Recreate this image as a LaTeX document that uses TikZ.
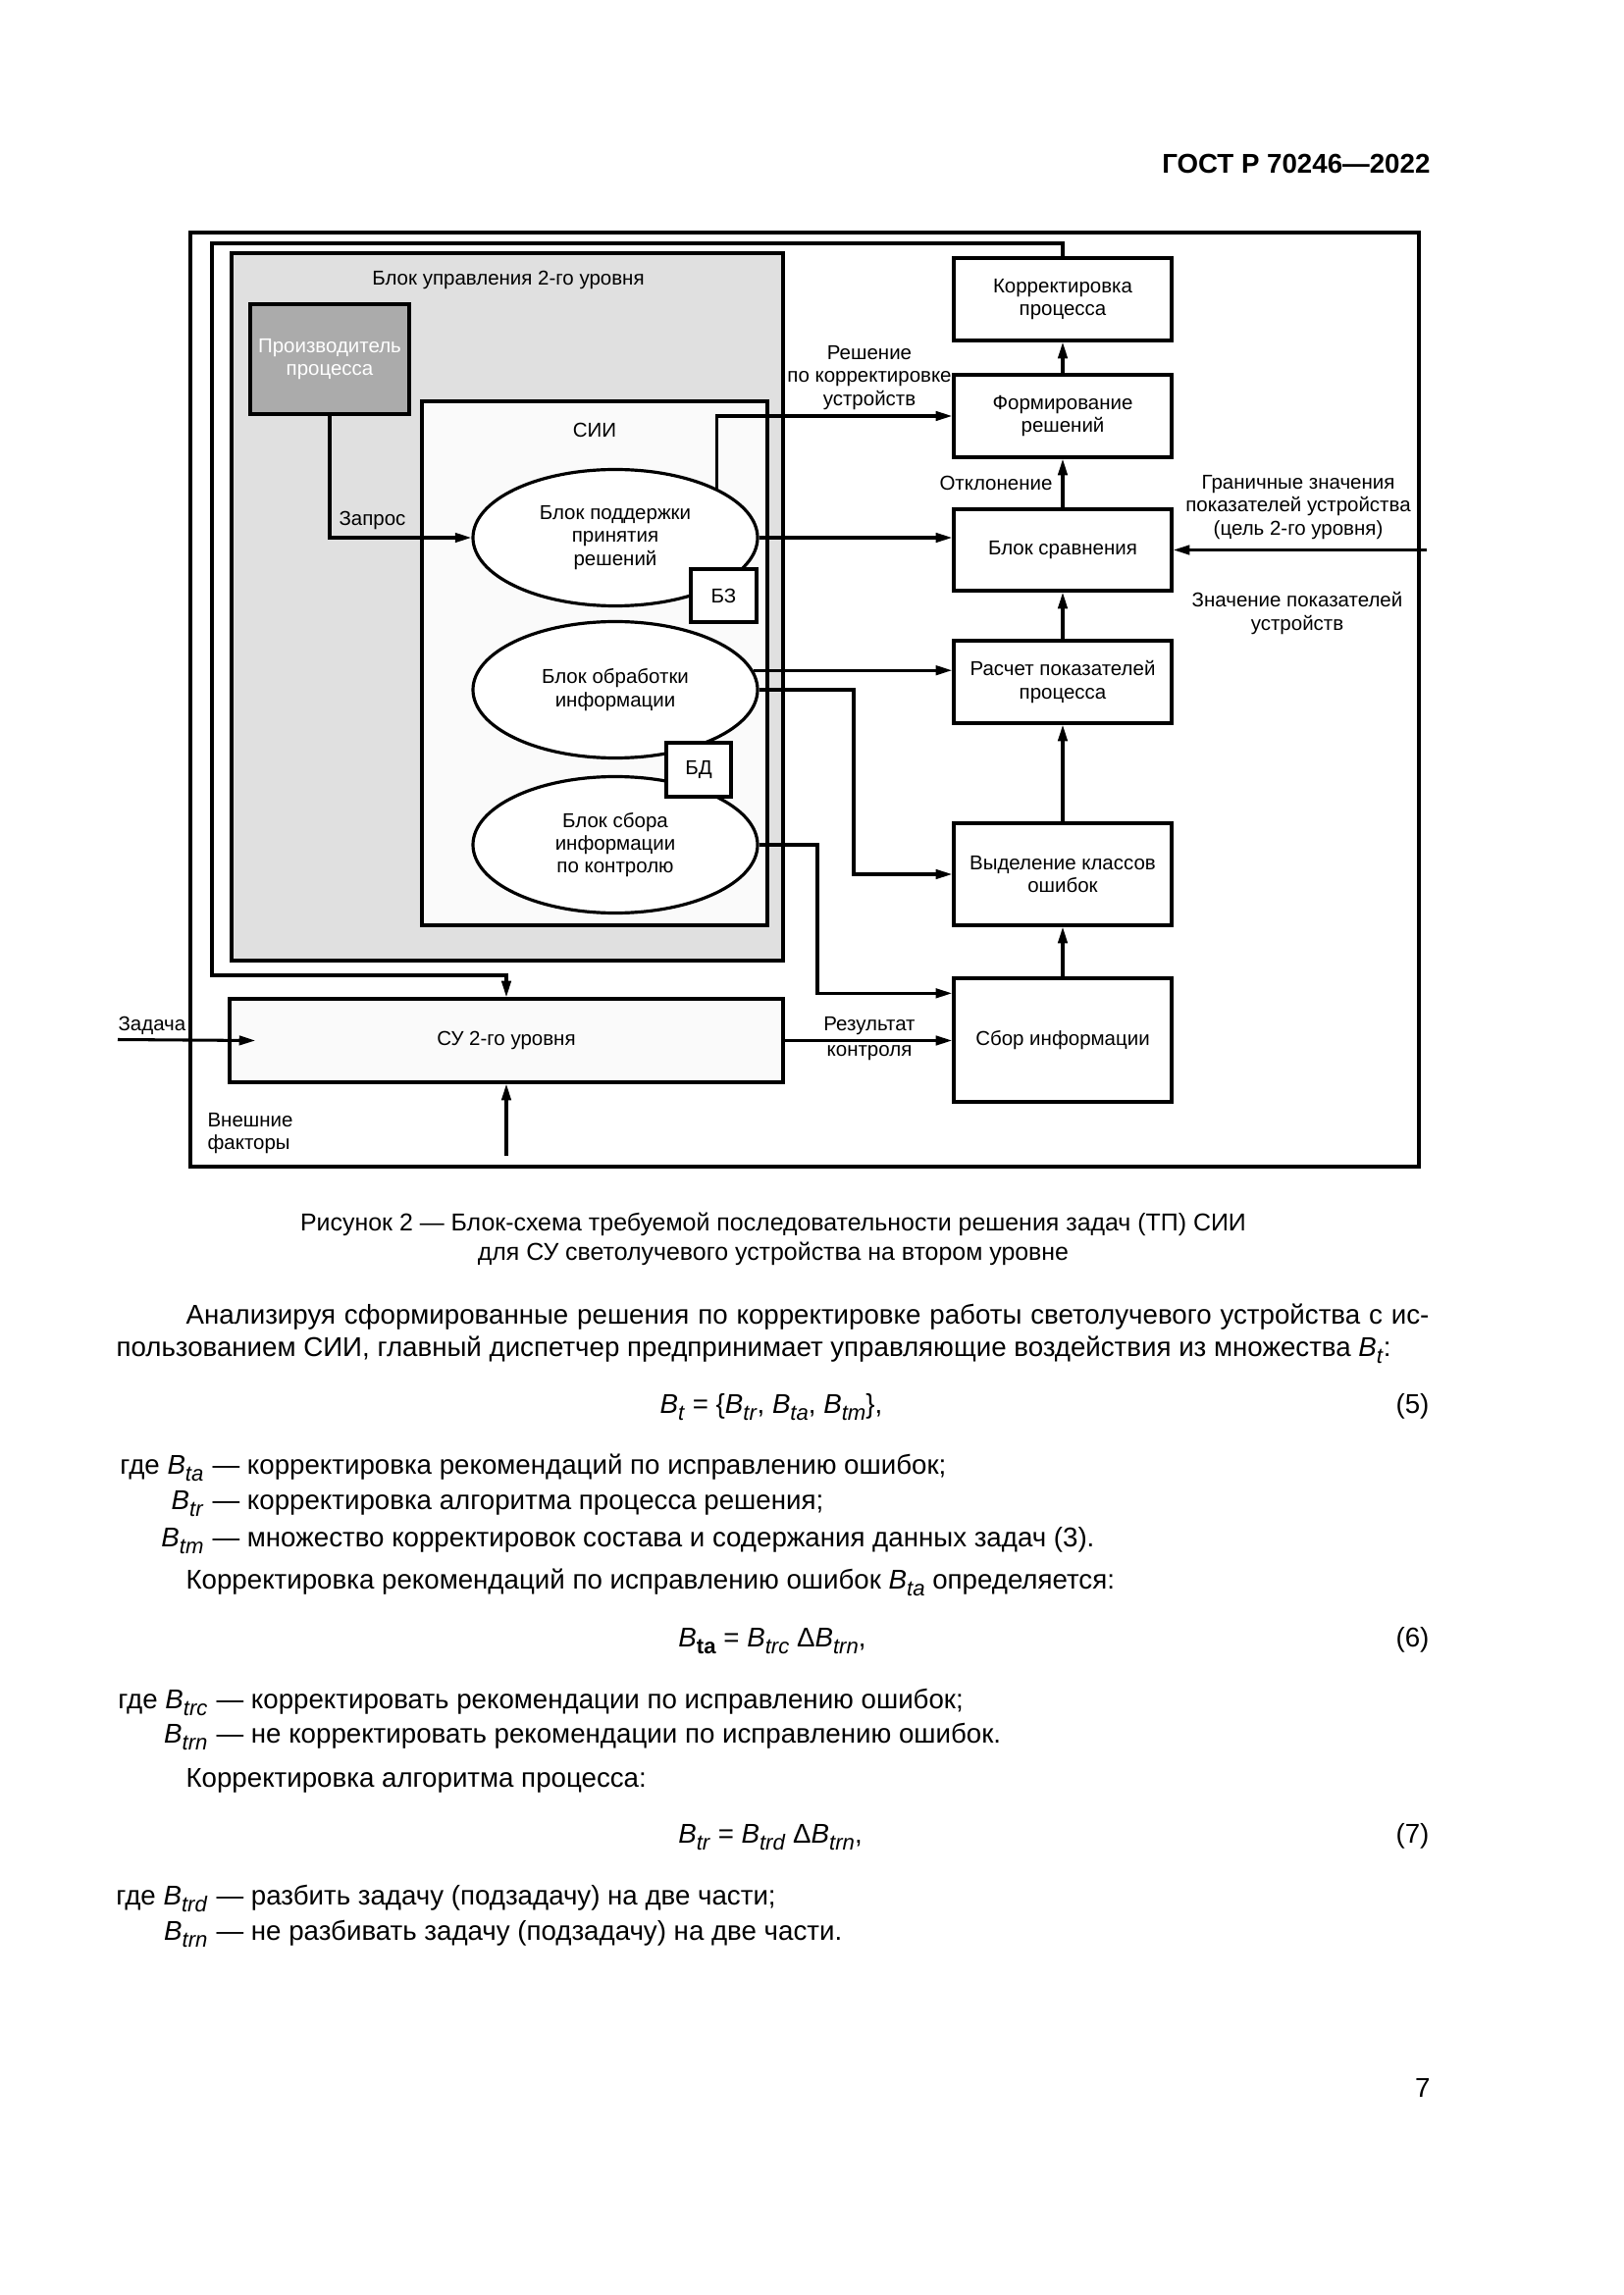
\documentclass[tikz,border=0pt]{standalone}
\usepackage{fontspec}
\setmainfont{Liberation Sans}
\usetikzlibrary{arrows.meta,shapes.geometric,calc}
\newcommand{\PX}{0.3612pt}
\newcommand{\dg}{\fontsize{7.4}{8.4}\selectfont}
\newcommand{\bt}{\fontsize{10}{12}\selectfont}
\newcommand{\cpf}{\fontsize{9}{11}\selectfont}
\newcommand{\Bv}[1]{\textit{B}\raisebox{-2.8pt}{\fontsize{8}{8}\selectfont\textit{#1}}}
\newcommand{\Bb}[1]{\textit{B}\raisebox{-2.8pt}{\fontsize{8}{8}\selectfont\textbf{#1}}}
\begin{document}
\begin{tikzpicture}[x=0.3612pt,y=-0.3612pt,
  blk/.style={draw, line width=1.2pt, fill=white, minimum width=222*\PX, inner sep=0pt, align=center, font=\dg},
  ell/.style={ellipse, draw, line width=1.15pt, fill=white, minimum width=290*\PX, minimum height=139*\PX, inner sep=0pt, align=center, font=\dg},
  sbox/.style={draw, line width=1.2pt, fill=white, inner sep=0pt, align=center, font=\dg},
  conn/.style={line width=1.1pt, -{Triangle[length=6pt,width=3.4pt]}},
  lbl/.style={inner sep=0pt, align=center, font=\dg},
  txt/.style={inner sep=0pt, font=\bt},
  captxt/.style={inner sep=0pt, font=\cpf},
]
\useasboundingbox (0,0) rectangle (1654,2339);
\fill[white] (0,0) rectangle (1654,2339);

% header
\node[txt, font=\bt\bfseries, anchor=base east] (hdr) at (1458,177) {ГОСТ Р 70246—2022};

% outer frame
\draw[line width=1.7pt] (194,237) rectangle (1446,1189);

% grey control block
\node[draw, line width=1.2pt, fill=black!12, minimum width=562*\PX, minimum height=721*\PX, inner sep=0pt] (gb) at (517,618.5) {};
\node[lbl] (gbt) at (518,285) {Блок управления 2-го уровня};

% producer
\node[draw, line width=1.2pt, fill=black!33, minimum width=162*\PX, minimum height=112*\PX, inner sep=0pt, align=center, font=\dg, text=white] (prod) at (336,366) {Производитель\\процесса};

% SII
\node[draw, line width=1.2pt, fill=black!2, minimum width=352*\PX, minimum height=534*\PX, inner sep=0pt] (sii) at (606,676) {};
\node[lbl] (siit) at (606,438) {СИИ};

% ellipses
\node[ell] (e1) at (627,548) {Блок поддержки\\принятия\\решений};
\node[ell] (e2) at (627,703) {Блок обработки\\информации};
\node[ell] (e3) at (627,861) {Блок сбора\\информации\\по контролю};
\node[sbox, minimum width=67*\PX, minimum height=54*\PX] (bz) at (737.5,607) {БЗ};
\node[sbox, minimum width=66*\PX, minimum height=55*\PX] (bd) at (712,784.5) {БД};

% right column
\node[blk, minimum height=84*\PX] (korr) at (1083,305) {Корректировка\\процесса};
\node[blk, minimum height=84*\PX] (form) at (1083,424) {Формирование\\решений};
\node[blk, minimum height=83*\PX] (cmp) at (1083,560.5) {Блок сравнения};
\node[blk, minimum height=84*\PX] (calc) at (1083,695) {Расчет показателей\\процесса};
\node[blk, minimum height=104*\PX] (vyd) at (1083,891) {Выделение классов\\ошибок};
\node[blk, minimum height=126*\PX] (sb) at (1083,1060) {Сбор информации};

% SU
\node[draw, line width=1.2pt, fill=black!2, minimum width=564*\PX, minimum height=85*\PX, inner sep=0pt, font=\dg] (su) at (516,1060.5) {СУ 2-го уровня};

% helper coordinates
\coordinate (lpTL) at (216,248);
\coordinate (lpBL) at (216,994);
\coordinate (j1) at (870,0);
\coordinate (j2) at (833,0);
\coordinate (gin) at (1454,560.5);
\coordinate (zin) at (120,1059.5);
\coordinate (vf) at (516,1178);
\path (sb.north west) ++(0,17) coordinate (sbin);

% connectors
\draw[conn] (prod.south) |- (e1.west);
\draw[conn] (e1.26.7) |- (form.west);
\draw[conn] (e1.east) -- (cmp.west |- e1.east);
\draw[conn] (gin) -- (cmp.east);
\draw[conn] (e2.8.64) -- (calc.west |- e2.8.64);
\draw[conn] (e2.east) -- (j1 |- e2.east) |- (vyd.west);
\draw[conn] (e3.east) -- (j2 |- e3.east) |- (sbin);
\draw[conn] (su.east) -- (su.east -| sb.west);
\draw[conn] (zin) -- ([xshift=28*\PX]su.west);
\draw[conn] (vf) -- (su.south);
\draw[conn] (korr.north) |- (lpTL) -- (lpBL) -| (su.north);
\draw[conn] (sb.north) -- (vyd.south);
\draw[conn] (vyd.north) -- (calc.south);
\draw[conn] (calc.north) -- (cmp.south);
\draw[conn] (cmp.north) -- (form.south);
\draw[conn] (form.north) -- (korr.south);

% labels
\node[lbl, anchor=west] (lzap) at (345,530) {Запрос};
\node[lbl] (lres) at (886,385) {Решение\\по корректировке\\устройств};
\node[lbl] (lotk) at (1015,492) {Отклонение};
\node[lbl] (lgr) at (1323,517) {Граничные значения\\показателей устройства\\(цель 2-го уровня)};
\node[lbl] (lzn) at (1322,625) {Значение показателей\\устройств};
\node[lbl] (lrk1) at (886,1046) {Результат};
\node[lbl] (lrk2) at (886,1073) {контроля};
\node[lbl, anchor=west] (lzad) at (120,1045) {Задача};
\node[lbl, anchor=west, align=left] (lvf) at (211,1155) {Внешние\\факторы};

% caption
\node[captxt, anchor=base] (c1) at (788,1254) {Рисунок 2 — Блок-схема требуемой последовательности решения задач (ТП) СИИ};
\node[captxt, anchor=base] (c2) at (788,1284) {для СУ светолучевого устройства на втором уровне};

% body text
\node[txt, anchor=base west] (p1) at (189,1349) {\makebox[457.6pt][s]{Анализируя сформированные решения по корректировке работы светолучевого устройства с ис-}};
\node[txt, anchor=base west] (p2) at (118,1382) {пользованием СИИ, главный диспетчер предпринимает управляющие воздействия из множества \Bv{t}:};

\node[txt, anchor=base] (eq5) at (786,1440) {\Bv{t} = \{\Bv{tr}, \Bv{ta}, \Bv{tm}\},};
\node[txt, anchor=base east] (n5) at (1457,1440) {(5)};

\node[txt, anchor=base east] (t1) at (208,1502) {где \Bv{ta}};
\node[txt, anchor=base west] (d1) at (216,1502) {— корректировка рекомендаций по исправлению ошибок;};
\node[txt, anchor=base east] (t2) at (208,1538) {\Bv{tr}};
\node[txt, anchor=base west] (d2) at (216,1538) {— корректировка алгоритма процесса решения;};
\node[txt, anchor=base east] (t3) at (208,1576) {\Bv{tm}};
\node[txt, anchor=base west] (d3) at (216,1576) {— множество корректировок состава и содержания данных задач (3).};

\node[txt, anchor=base west] (p3) at (189,1619) {Корректировка рекомендаций по исправлению ошибок \Bv{ta} определяется:};

\node[txt, anchor=base] (eq6) at (787,1678) {\Bb{ta} = \Bv{trc} Δ\Bv{trn},};
\node[txt, anchor=base east] (n6) at (1457,1678) {(6)};

\node[txt, anchor=base east] (t4) at (212,1741) {где \Bv{trc}};
\node[txt, anchor=base west] (d4) at (220,1741) {— корректировать рекомендации по исправлению ошибок;};
\node[txt, anchor=base east] (t5) at (212,1776) {\Bv{trn}};
\node[txt, anchor=base west] (d5) at (220,1776) {— не корректировать рекомендации по исправлению ошибок.};

\node[txt, anchor=base west] (p4) at (189,1821) {Корректировка алгоритма процесса:};

\node[txt, anchor=base] (eq7) at (785,1878) {\Bv{tr} = \Bv{trd} Δ\Bv{trn},};
\node[txt, anchor=base east] (n7) at (1457,1878) {(7)};

\node[txt, anchor=base east] (t6) at (212,1941) {где \Bv{trd}};
\node[txt, anchor=base west] (d6) at (220,1941) {— разбить задачу (подзадачу) на две части;};
\node[txt, anchor=base east] (t7) at (212,1977) {\Bv{trn}};
\node[txt, anchor=base west] (d7) at (220,1977) {— не разбивать задачу (подзадачу) на две части.};

\node[txt, anchor=base east] (pg) at (1458,2137) {7};
\end{tikzpicture}
\end{document}
